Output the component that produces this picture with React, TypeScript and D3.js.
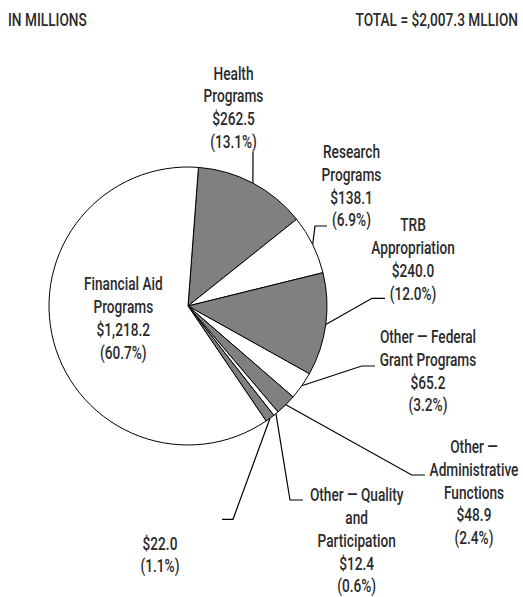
import React from "react";
import * as d3 from "d3";

// ---- data ----
const categories = [
  "Health Programs",
  "Research Programs",
  "TRB Appropriation",
  "Other — Federal Grant Programs",
  "Other — Administrative Functions",
  "Other — Quality and Participation",
  "Unlabeled",
  "Financial Aid Programs",
];
const values = [262.5, 138.1, 240.0, 65.2, 48.9, 12.4, 22.0, 1218.2];
const nameLines = [
  ["Health", "Programs"],
  ["Research", "Programs"],
  ["TRB", "Appropriation"],
  ["Other — Federal", "Grant Programs"],
  ["Other —", "Administrative", "Functions"],
  ["Other — Quality", "and", "Participation"],
  [],
  ["Financial Aid", "Programs"],
];
const fills = ["#808080", "#ffffff", "#808080", "#ffffff", "#808080", "#ffffff", "#808080", "#ffffff"];
const headerLeft = "IN MILLIONS";
const headerRight = "TOTAL = $2,007.3 MLLION";

// ---- layout ----
const W = 523;
const H = 597;
const cx = 188;
const cy = 306;
const R = 139;
const startDeg = 4.3;
const lineH = 22.8;
const labelLayout = [
  { x: 233.5, y: 73.3, leader: [[253, 152]] },
  { x: 351.5, y: 151.7, leader: [[315, 226], [327, 226]] },
  { x: 413, y: 225, leader: [[372, 298.3], [385, 298.3]] },
  { x: 428, y: 336.7, leader: [[361.7, 366], [375, 366]] },
  { x: 474, y: 446.7, leader: [[411.7, 475], [425, 475]] },
  { x: 356.7, y: 495, leader: [[290, 500], [303, 500]] },
  { x: 160, y: 543.3, leader: [[233, 519.3], [222, 519.3]] },
  { x: 123.3, y: 284, leader: null },
];

const FONT = "Roboto, 'Noto Sans', sans-serif";
const TEXT = "#2b2b2b";
const FS = 18;
const SX = 0.76;

export default function App() {
  const total = d3.sum(values);
  const start = (startDeg * Math.PI) / 180;
  const pie = d3
    .pie<number>()
    .sort(null)
    .value((d) => d)
    .startAngle(start)
    .endAngle(start + 2 * Math.PI);
  const arcs = pie(values);
  const arc = d3.arc<d3.PieArcDatum<number>>().innerRadius(0).outerRadius(R);
  const edge = d3.arc<d3.PieArcDatum<number>>().innerRadius(R).outerRadius(R);
  const money = d3.format(",.1f");
  const pct = d3.format(".1%");

  return (
    <svg
      width={W}
      height={H}
      style={{ position: "absolute", left: 0, top: 0, background: "#fff" }}
      fontFamily={FONT}
      fontWeight={500}
    >
      <g transform={`translate(8,0) scale(${SX},1)`}>
        <text x={0} y={20} dy="0.35em" fontSize={FS} fill={TEXT}>
          {headerLeft}
        </text>
      </g>
      <g transform={`translate(518,0) scale(${SX},1)`}>
        <text x={0} y={20} dy="0.35em" fontSize={FS} fill={TEXT} textAnchor="end">
          {headerRight}
        </text>
      </g>
      <g transform={`translate(${cx},${cy})`}>
        {arcs.map((a, i) => (
          <path key={categories[i]} d={arc(a) || ""} fill={fills[i]} stroke="#000" strokeWidth={1} />
        ))}
      </g>
      {arcs.map((a, i) => {
        const L = labelLayout[i];
        if (!L.leader) return null;
        const c = edge.centroid(a);
        const pts = [[c[0] + cx, c[1] + cy], ...L.leader];
        return (
          <polyline
            key={"l" + i}
            points={pts.map((p) => p.join(",")).join(" ")}
            fill="none"
            stroke="#000"
            strokeWidth={1.2}
          />
        );
      })}
      {arcs.map((a, i) => {
        const L = labelLayout[i];
        const lines = [...nameLines[i], "$" + money(values[i]), "(" + pct(values[i] / total) + ")"];
        return (
          <g key={"t" + i} transform={`translate(${L.x},0) scale(${SX},1)`}>
            <text fontSize={FS} fill={TEXT} textAnchor="middle">
              {lines.map((ln, j) => (
                <tspan key={j} x={0} y={L.y + j * lineH} dy="0.35em">
                  {ln}
                </tspan>
              ))}
            </text>
          </g>
        );
      })}
    </svg>
  );
}
